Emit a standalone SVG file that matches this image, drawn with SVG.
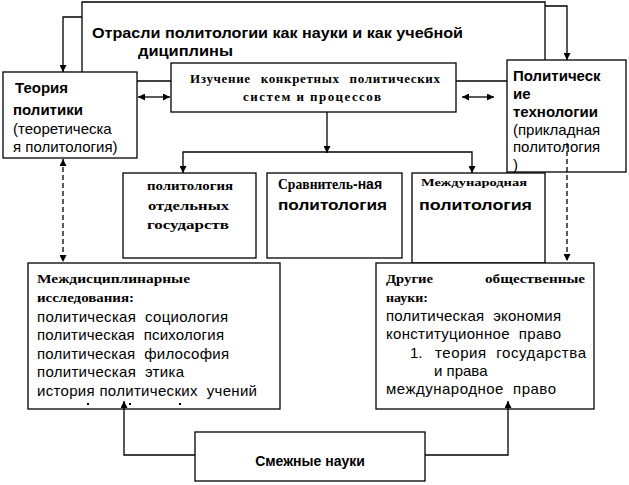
<svg xmlns="http://www.w3.org/2000/svg" width="629" height="485" viewBox="0 0 629 485">
<style>
.box{fill:#fff;stroke:#000;stroke-width:1.3}
.ln{fill:none;stroke:#000;stroke-width:1.3}
.dash{fill:none;stroke:#000;stroke-width:1.3;stroke-dasharray:5,3}
.sb{font-family:"Liberation Sans",Arial,sans-serif;font-weight:bold;fill:#000}
.s{font-family:"Liberation Sans",Arial,sans-serif;fill:#000}
.rb{font-family:"Liberation Serif","Times New Roman",serif;font-weight:bold;fill:#000}
</style>
<defs>
<marker id="ah" viewBox="0 0 10 10" refX="10" refY="5" markerWidth="7" markerHeight="7" markerUnits="userSpaceOnUse" orient="auto-start-reverse">
<path d="M0,0 L10,5 L0,10 Z" fill="#000"/>
</marker>
</defs>
<rect width="629" height="485" fill="#fff"/>

<g id="title">
<text class="sb" x="92" y="38" font-size="15" textLength="371" lengthAdjust="spacingAndGlyphs">Отрасли политологии как науки и как учебной</text>
<text class="sb" x="138" y="56" font-size="15" textLength="95" lengthAdjust="spacingAndGlyphs">дициплины</text>
</g>

<g id="teoriya">
<rect class="box" x="3" y="72" width="134" height="86"/>
<text class="sb" x="15" y="93" font-size="15">Теория</text>
<text class="sb" x="13" y="115" font-size="15">политики</text>
<text class="s" x="13" y="134" font-size="15">(теоретическа</text>
<text class="s" x="13" y="152" font-size="15">я политология)</text>
</g>

<g id="izuchenie">
<rect class="box" x="171" y="63" width="285" height="49"/>
<text class="rb" x="190" y="83" font-size="13" textLength="250" lengthAdjust="spacing" word-spacing="6">Изучение конкретных политических</text>
<text class="rb" x="243" y="101" font-size="13" textLength="138" lengthAdjust="spacing">систем и процессов</text>
</g>

<g id="polittech">
<rect class="box" x="507" y="60" width="119" height="112"/>
<text class="sb" x="513" y="81" font-size="15">Политическ</text>
<text class="sb" x="513" y="99" font-size="15">ие</text>
<text class="sb" x="513" y="117" font-size="15">технологии</text>
<text class="s" x="513" y="135" font-size="15">(прикладная</text>
<text class="s" x="513" y="152" font-size="15">политология</text>
<text class="s" x="513" y="170" font-size="15">)</text>
</g>

<g id="otdelnyh">
<rect class="box" x="123" y="173" width="133" height="85"/>
<text class="rb" x="147" y="190" font-size="12" textLength="86" lengthAdjust="spacingAndGlyphs">политология</text>
<text class="rb" x="148" y="210" font-size="12" textLength="81" lengthAdjust="spacingAndGlyphs">отдельных</text>
<text class="rb" x="147" y="229" font-size="12" textLength="82" lengthAdjust="spacingAndGlyphs">государств</text>
</g>

<g id="sravnit">
<rect class="box" x="267" y="173" width="135" height="85"/>
<text class="rb" x="278" y="189" font-size="14" textLength="75" lengthAdjust="spacingAndGlyphs">Сравнитель</text>
<text class="sb" x="353" y="189" font-size="14">-ная</text>
<text class="sb" x="278" y="210" font-size="14" textLength="109" lengthAdjust="spacingAndGlyphs">политология</text>
</g>

<g id="mezhdunar">
<rect class="box" x="412" y="173" width="133" height="90"/>
<text class="rb" x="421" y="186" font-size="11" textLength="106" lengthAdjust="spacingAndGlyphs">Международная</text>
<text class="sb" x="419" y="210" font-size="14" textLength="113" lengthAdjust="spacingAndGlyphs">политология</text>
</g>

<g id="mezhdisc">
<rect class="box" x="28" y="263" width="252" height="146"/>
<text class="rb" x="37" y="283" font-size="12" textLength="153" lengthAdjust="spacingAndGlyphs">Междисциплинарные</text>
<text class="rb" x="37" y="302" font-size="12" textLength="97" lengthAdjust="spacingAndGlyphs">исследования:</text>
<text class="s" x="37" y="322" font-size="15" textLength="191" lengthAdjust="spacing" xml:space="preserve">политическая  социология</text>
<text class="s" x="37" y="340" font-size="15" textLength="187" lengthAdjust="spacing" xml:space="preserve">политическая  психология</text>
<text class="s" x="37" y="359" font-size="15" textLength="192" lengthAdjust="spacing" xml:space="preserve">политическая  философия</text>
<text class="s" x="37" y="377" font-size="15" textLength="147" lengthAdjust="spacing" xml:space="preserve">политическая  этика</text>
<text class="s" x="37" y="396" font-size="15" textLength="220" lengthAdjust="spacing" xml:space="preserve">история политических  учений</text>
<rect x="87" y="403" width="2" height="2" fill="#000"/>
<rect x="129" y="403" width="2" height="2" fill="#000"/>
<rect x="179" y="403" width="2" height="2" fill="#000"/>
</g>

<g id="drugie">
<rect class="box" x="376" y="263" width="218" height="146"/>
<text class="rb" x="386" y="283" font-size="12" textLength="47" lengthAdjust="spacingAndGlyphs">Другие</text>
<text class="rb" x="485" y="283" font-size="12" textLength="100" lengthAdjust="spacingAndGlyphs">общественные</text>
<text class="rb" x="386" y="302" font-size="12" textLength="42" lengthAdjust="spacingAndGlyphs">науки:</text>
<text class="s" x="386" y="321" font-size="15" textLength="175" lengthAdjust="spacing" xml:space="preserve">политическая  экономия</text>
<text class="s" x="386" y="339" font-size="15" textLength="175" lengthAdjust="spacing" xml:space="preserve">конституционное  право</text>
<text class="s" x="410" y="358" font-size="15">1.</text>
<text class="s" x="435" y="358" font-size="15" textLength="151" lengthAdjust="spacing" xml:space="preserve">теория  государства</text>
<text class="s" x="434" y="376" font-size="15">и права</text>
<text class="s" x="386" y="394" font-size="15" textLength="170" lengthAdjust="spacing" xml:space="preserve">международное  право</text>
</g>

<g id="smezhnye">
<rect class="box" x="195" y="432" width="230" height="49"/>
<text class="sb" x="310" y="466" font-size="14" text-anchor="middle">Смежные науки</text>
</g>

<g id="connectors">
<polyline class="ln" points="82,72 82,2 545,2 545,60"/>
<polyline class="ln" points="82,17 63,17 63,72" marker-end="url(#ah)"/>
<polyline class="ln" points="545,6 567,6 567,60" marker-end="url(#ah)"/>
<line class="ln" x1="137" y1="81" x2="171" y2="81"/>
<line class="ln" x1="456" y1="81" x2="507" y2="81"/>
<line class="ln" x1="138" y1="97" x2="170" y2="97" marker-start="url(#ah)" marker-end="url(#ah)"/>
<line class="ln" x1="462" y1="97" x2="494" y2="97" marker-start="url(#ah)" marker-end="url(#ah)"/>
<line class="ln" x1="327" y1="112" x2="327" y2="153" marker-end="url(#ah)"/>
<polyline class="ln" points="183,173 183,152 472,152 472,173" marker-start="url(#ah)" marker-end="url(#ah)"/>
<line class="dash" x1="63" y1="159" x2="63" y2="262" marker-start="url(#ah)" marker-end="url(#ah)"/>
<line class="dash" x1="567" y1="143" x2="567" y2="261" marker-end="url(#ah)"/>
<polyline class="ln" points="195,455 124,455 124,401" marker-end="url(#ah)"/>
<polyline class="ln" points="425,455 508,455 508,401" marker-end="url(#ah)"/>
</g>
</svg>
